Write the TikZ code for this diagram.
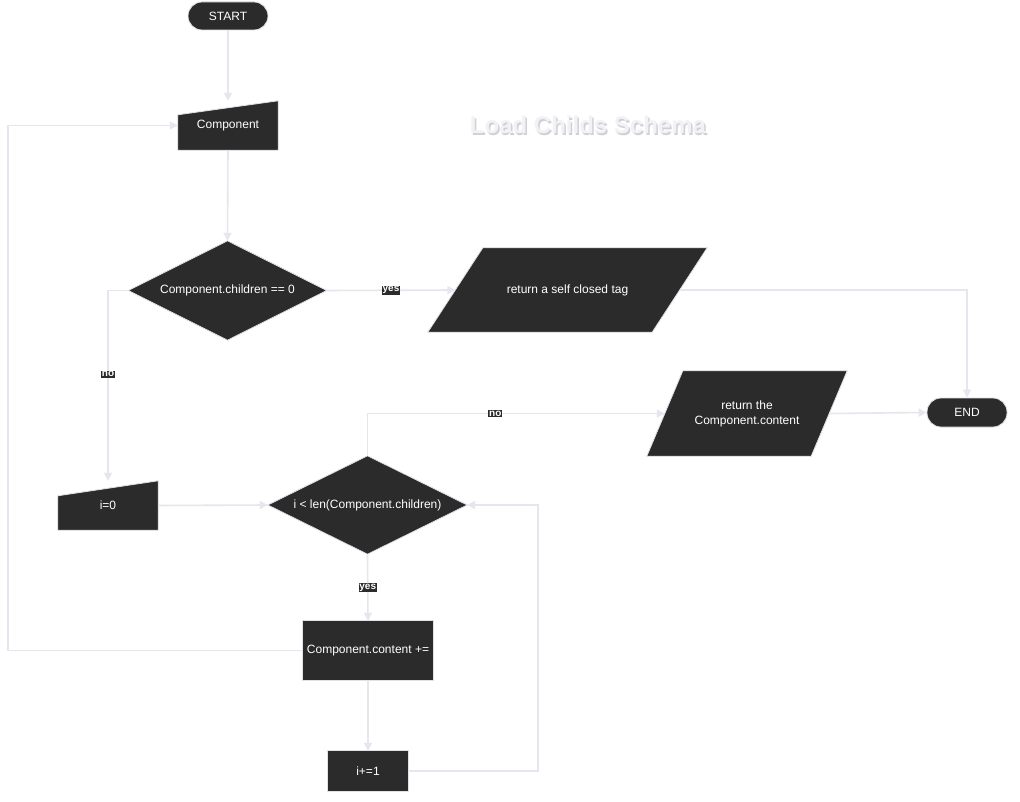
\documentclass[tikz,border=0pt]{standalone}
\usepackage{fontspec}
\setmainfont{Liberation Sans}
\usetikzlibrary{arrows.meta,calc,backgrounds}
\definecolor{nodefill}{HTML}{2B2B2B}
\definecolor{nodeline}{HTML}{E0E0E8}
\definecolor{edgecol}{HTML}{E6E6EE}
\definecolor{titlecol}{HTML}{F2F2F4}
\definecolor{shadowcol}{HTML}{D0D0D8}
\begin{document}
\begin{tikzpicture}[x=1pt,y=-1pt,
  txt/.style={inner sep=0pt, text=white, font=\fontsize{12}{15}\selectfont, align=center},
  shapefill/.style={fill=nodefill, draw=nodeline, line width=0.8pt},
  stadium/.style={txt, shapefill, rounded corners=14pt},
  edge/.style={draw=edgecol, line width=1.6pt, -{Triangle[length=8pt,width=8pt]}},
  lbl/.style={fill=nodefill, text=white, inner sep=0.8pt, font=\fontsize{10}{12}\selectfont\bfseries},
]
\useasboundingbox (0,0) rectangle (1020,802);

% title
\node[font=\fontsize{24}{28}\selectfont\bfseries, text=shadowcol, inner sep=0pt] (titleshadow) at (589.5,126.5) {Load Childs Schema};
\node[font=\fontsize{24}{28}\selectfont\bfseries, text=titlecol, inner sep=0pt] (title) at (588,125) {Load Childs Schema};

% nodes
\node[stadium, minimum width=80, minimum height=28] (start) at (228,16) {START};
\node[txt, minimum width=100, minimum height=49] (comp) at (228,125.5) {Component};
\node[txt, minimum width=198, minimum height=99] (d1) at (227.5,290.5) {Component.children == 0};
\node[txt, minimum width=224, minimum height=84] (p1) at (567.5,290) {return a self closed tag};
\node[txt, minimum width=164, minimum height=85] (p2) at (747,413.5) {return the\\Component.content};
\node[stadium, minimum width=80, minimum height=29] (end) at (967,412.5) {END};
\node[txt, minimum width=100, minimum height=49] (i0) at (108,505.5) {i=0};
\node[txt, minimum width=199, minimum height=98] (d2) at (367.5,505) {i < len(Component.children)};
\node[txt, minimum width=130, minimum height=59] (cc) at (368,650.5) {Component.content +=};
\node[txt, minimum width=80, minimum height=40] (inc) at (368,771) {i+=1};

\coordinate (loopL) at (8,0);
\coordinate (loopR) at (538,0);

% shapes behind text
\begin{scope}[on background layer]
  \fill[white] (0,0) rectangle (1020,802);
  \draw[shapefill] (comp.south west) -- (comp.south east) -- (comp.north east) -- ($(comp.north west)+(0,14)$) -- cycle;
  \draw[shapefill] (i0.south west) -- (i0.south east) -- (i0.north east) -- ($(i0.north west)+(0,15)$) -- cycle;
  \draw[shapefill] (d1.north) -- (d1.east) -- (d1.south) -- (d1.west) -- cycle;
  \draw[shapefill] (d2.north) -- (d2.east) -- (d2.south) -- (d2.west) -- cycle;
  \draw[shapefill] ($(p1.south west)+(-27.5,0)$) -- ($(p1.south east)+(-27.5,0)$) -- ($(p1.north east)+(27.5,0)$) -- ($(p1.north west)+(27.5,0)$) -- cycle;
  \draw[shapefill] ($(p2.south west)+(-18,0)$) -- ($(p2.south east)+(-18,0)$) -- ($(p2.north east)+(18,0)$) -- ($(p2.north west)+(18,0)$) -- cycle;
  \draw[shapefill] (cc.south west) rectangle (cc.north east);
  \draw[shapefill] (inc.south west) rectangle (inc.north east);
\end{scope}

% connectors
\draw[edge] (start.south) -- (comp.north);
\draw[edge] (comp.south) -- (d1.north);
\draw[edge] (d1.east) -- node[lbl] {yes} (p1.west);
\draw[edge] (p1.east) -| (end.north);
\draw[edge] (d1.west) -| node[lbl, pos=0.72] {no} (i0.north);
\draw[edge] (i0.east) -- (d2.west);
\draw[edge] (d2.north) |- node[lbl, pos=0.715] {no} (p2.west);
\draw[edge] (p2.east) -- (end.west);
\draw[edge] (d2.south) -- node[lbl] {yes} (cc.north);
\draw[edge] (cc.south) -- (inc.north);
\draw[edge] (inc.east) -- (inc.east -| loopR) |- (d2.east);
\draw[edge] (cc.west) -- (cc.west -| loopL) |- (comp.west);
\end{tikzpicture}
\end{document}
